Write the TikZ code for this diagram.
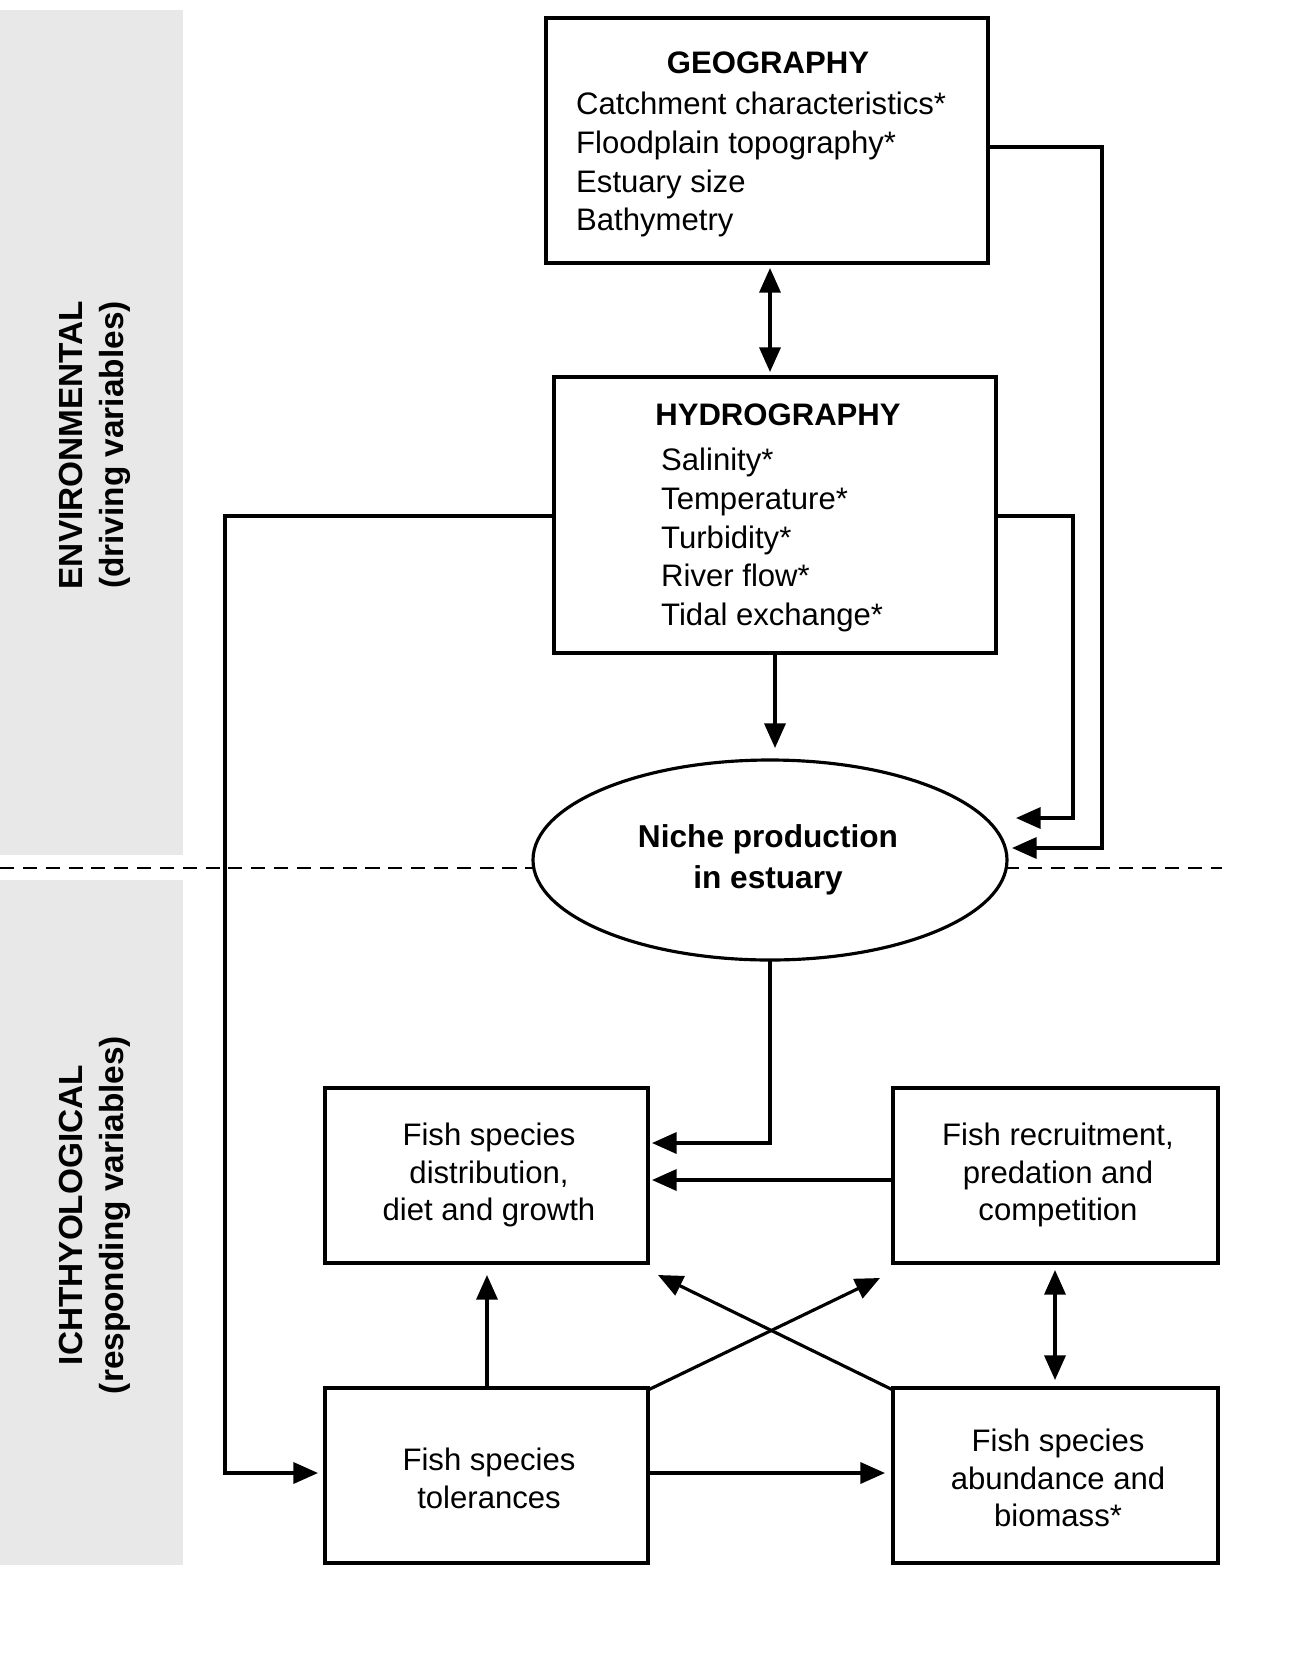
\documentclass[tikz,border=0pt]{standalone}
\usepackage{fontspec}
\setmainfont{Liberation Sans}
\usetikzlibrary{arrows.meta,shapes.geometric}
\begin{document}
\begin{tikzpicture}[x=0.02cm,y=-0.02cm,
  ln/.style={line width=1.8pt},
  ar/.style={ln,-{Triangle[length=14pt,width=12pt]}},
  dar/.style={ln,{Triangle[length=14pt,width=12pt]}-{Triangle[length=14pt,width=12pt]}},
  bx/.style={draw,line width=1.8pt,inner sep=0pt},
  txt/.style={font=\fontsize{17.7}{21.5}\selectfont,align=center},
  side/.style={font=\fontsize{19}{23}\selectfont\bfseries,align=center,rotate=90}]
\useasboundingbox (0,0) rectangle (1300,1667);
\fill[gray!18] (0,10) rectangle (183,855);
\fill[gray!18] (0,880) rectangle (183,1565);
\node[side] (env) at (95,445) {ENVIRONMENTAL\\(driving variables)};
\node[side] (ich) at (95,1215) {ICHTHYOLOGICAL\\(responding variables)};
\draw[dashed,line width=1.4pt,dash pattern=on 8pt off 5pt] (0,868) -- (1222,868);
% boxes
\draw[bx,fill=white] (546,18) rectangle (988,263);
\coordinate (geoR) at (988,147);
\node[txt,font=\fontsize{17.7}{21.5}\selectfont\bfseries] (geot) at (768,63) {GEOGRAPHY};
\node[txt,align=left,anchor=north west,font=\fontsize{17.7}{22}\selectfont] (geol) at (570,86) {Catchment characteristics*\\Floodplain topography*\\Estuary size\\Bathymetry};
\draw[bx,fill=white] (554,377) rectangle (996,653);
\node[txt,font=\fontsize{17.7}{21.5}\selectfont\bfseries] (hyt) at (778,415) {HYDROGRAPHY};
\node[txt,align=left,anchor=north west,font=\fontsize{17.7}{22}\selectfont] (hyl) at (655,442) {Salinity*\\Temperature*\\Turbidity*\\River flow*\\Tidal exchange*};
\draw[line width=1.8pt,fill=white] (770,860) ellipse [x radius=237,y radius=100];
\node[txt,font=\fontsize{18}{23}\selectfont\bfseries] (nt) at (768,860) {Niche production\\in estuary};
\draw[bx] (325,1088) rectangle (648,1263);
\node[txt] (dist) at (489,1175) {Fish species\\distribution,\\diet and growth};
\draw[bx] (893,1088) rectangle (1218,1263);
\node[txt] (rec) at (1058,1175) {Fish recruitment,\\predation and\\competition};
\draw[bx] (325,1388) rectangle (648,1563);
\node[txt] (tol) at (489,1478) {Fish species\\tolerances};
\draw[bx] (893,1388) rectangle (1218,1563);
\node[txt] (abu) at (1058,1478) {Fish species\\abundance and\\biomass*};
% connectors
\coordinate (a1) at (770,268); \coordinate (a2) at (770,372);
\draw[dar] (a1) -- (a2);
\coordinate (h1) at (775,653); \coordinate (h2) at (775,748);
\draw[ar] (h1) -- (h2);
\coordinate (g2) at (1012,848);
\draw[ar] (geoR) -- (1102,147) -- (1102,848) -- (g2);
\coordinate (hr) at (996,516); \coordinate (hr2) at (1016,818);
\draw[ar] (hr) -- (1073,516) -- (1073,818) -- (hr2);
\coordinate (hl) at (554,516); \coordinate (tl) at (318,1473);
\draw[ar] (hl) -- (225,516) -- (225,1473) -- (tl);
\coordinate (nb) at (770,960); \coordinate (dr1) at (652,1143);
\draw[ar] (nb) -- (770,1143) -- (dr1);
\coordinate (rl) at (893,1180); \coordinate (dr2) at (652,1180);
\draw[ar] (rl) -- (dr2);
\coordinate (ra) at (1055,1270); \coordinate (rb) at (1055,1380);
\draw[dar] (ra) -- (rb);
\coordinate (tt) at (487,1388); \coordinate (db) at (487,1275);
\draw[ar] (tt) -- (db);
\coordinate (tr) at (648,1473); \coordinate (al) at (885,1473);
\draw[ar] (tr) -- (al);
\coordinate (x1) at (648,1390); \coordinate (x2) at (880,1278);
\draw[ar] (x1) -- (x2);
\coordinate (x3) at (893,1390); \coordinate (x4) at (658,1275);
\draw[ar] (x3) -- (x4);
\end{tikzpicture}
\end{document}
